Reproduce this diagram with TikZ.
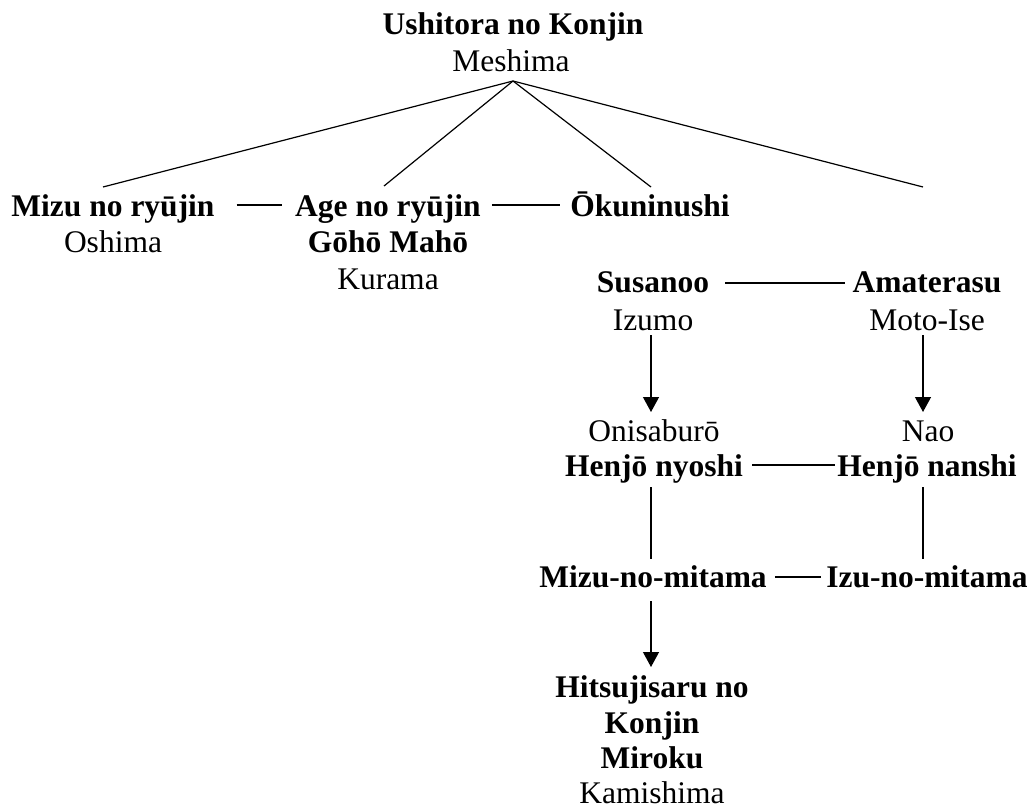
\documentclass[tikz,border=0pt]{standalone}
\usepackage{fontspec}
\setmainfont{Liberation Serif}
\usetikzlibrary{arrows.meta,calc}
\tikzset{
  txt/.style={font=\fontsize{31.5}{37}\selectfont, inner sep=0pt, anchor=base},
  btxt/.style={font=\fontsize{31.5}{37}\selectfont\bfseries, inner sep=0pt, anchor=base},
  conn/.style={line width=1.2pt},
  arr/.style={line width=1.2pt, -{Triangle[length=15pt,width=16pt]}}
}
\begin{document}
\begin{tikzpicture}[x=1pt,y=-1pt]
\useasboundingbox (0,0) rectangle (1033,810);
% top
\node[btxt] (ushi) at (513,35) {Ushitora no Konjin};
\node[txt] (meshima) at (511,72) {Meshima};
% row 1
\node[btxt] (mizu) at (113,217) {Mizu no ryūjin};
\node[txt] (oshima) at (113,253) {Oshima};
\node[btxt] (age) at (388,217) {Age no ryūjin};
\node[btxt] (goho) at (388,253) {Gōhō Mahō};
\node[txt] (kurama) at (388,290) {Kurama};
\node[btxt] (okuni) at (650,217) {Ōkuninushi};
% row 2
\node[btxt] (susanoo) at (653,293) {Susanoo};
\node[txt] (izumo) at (653,330) {Izumo};
\node[btxt] (amat) at (927,293) {Amaterasu};
\node[txt] (motoise) at (927,330) {Moto-Ise};
% row 3
\node[txt] (oni) at (654,441) {Onisaburō};
\node[btxt] (henjo1) at (654,476) {Henjō nyoshi};
\node[txt] (nao) at (928,441) {Nao};
\node[btxt] (henjo2) at (927,476) {Henjō nanshi};
% row 4
\node[btxt] (mizumitama) at (653,587) {Mizu-no-mitama};
\node[btxt] (izumitama) at (927,587) {Izu-no-mitama};
% bottom
\node[btxt] (hitsu) at (652,697) {Hitsujisaru no};
\node[btxt] (konjin) at (652,733) {Konjin};
\node[btxt] (miroku) at (652,768) {Miroku};
\node[txt] (kamishima) at (652,803) {Kamishima};
% fan
\coordinate (apex) at ($(meshima.base)+(2,9)$);
\coordinate (fanend) at ($(amat.base)+(-4,-106)$);
\draw[conn] (apex) -- ($(mizu.base)+(-10,-30)$);
\draw[conn] (apex) -- ($(age.base)+(-4,-31)$);
\draw[conn] (apex) -- ($(okuni.base)+(1,-30)$);
\draw[conn] (apex) -- (fanend);
% horizontal dashes
\draw[conn] ($(mizu.base east)+(22,-12)$) -- ($(age.base west)+(-13,-12)$);
\draw[conn] ($(age.base east)+(11,-12)$) -- ($(okuni.base west)+(-10,-12)$);
\draw[conn] ($(susanoo.base east)+(16,-10)$) -- ($(amat.base west)+(-7,-10)$);
\draw[conn] ($(henjo1.base east)+(9,-11)$) -- ($(henjo2.base west)+(-2,-11)$);
\draw[conn] ($(mizumitama.base east)+(8,-10)$) -- ($(izumitama.base west)+(-5,-10)$);
% verticals
\draw[arr] ($(izumo.base)+(-2,5)$) -- ($(oni.base)+(-3,-29)$);
\draw[arr] ($(motoise.base)+(-4,5)$) -- ($(nao.base)+(-5,-29)$);
\draw[conn] ($(henjo1.base)+(-3,11)$) -- ($(mizumitama.base)+(-2,-28)$);
\draw[conn] ($(henjo2.base)+(-4,11)$) -- ($(izumitama.base)+(-4,-28)$);
\draw[arr] ($(mizumitama.base)+(-2,14)$) -- ($(hitsu.base)+(-1,-30)$);
\end{tikzpicture}
\end{document}
